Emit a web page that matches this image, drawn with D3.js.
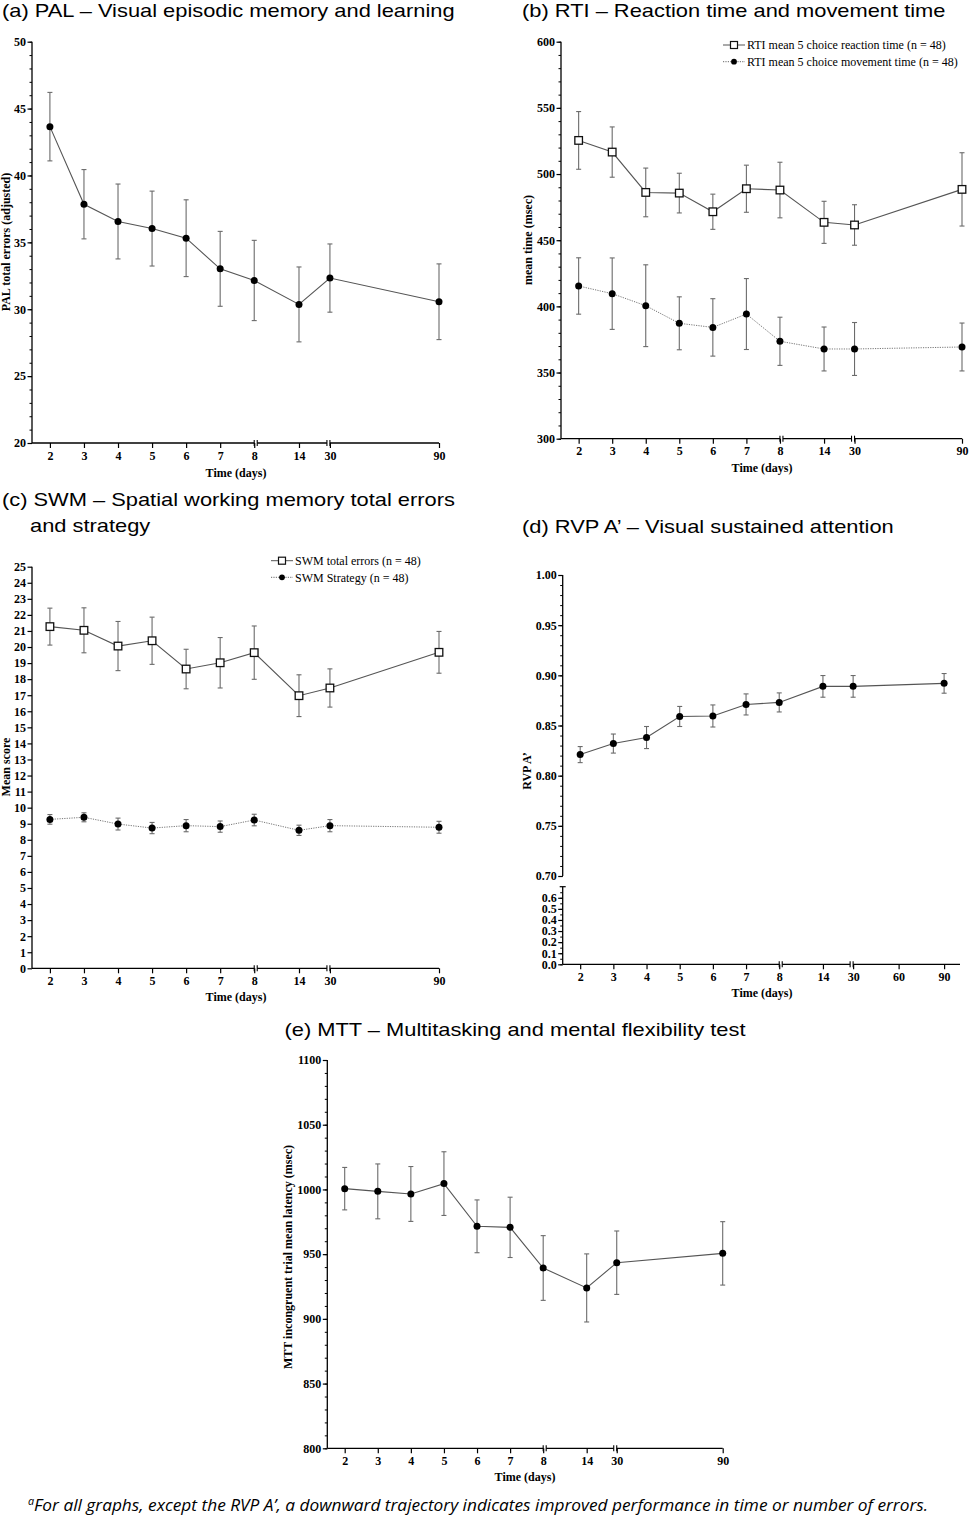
<!DOCTYPE html>
<html>
<head>
<meta charset="utf-8">
<script src="https://cdn.jsdelivr.net/npm/d3@7"></script>
<style>
  body { margin: 0; background: #fff; }
  text { fill: #000; }
</style>
</head>
<body>
<div id="chart"></div>
<script>
// ---- data ----
const days = [2, 3, 4, 5, 6, 7, 8, 14, 30, 90];
const xTickDays = [2, 3, 4, 5, 6, 7, 8, 14, 30, 90];
const rvpTickDays = [2, 3, 4, 5, 6, 7, 8, 14, 30, 60, 90];

const palMean = [43.65, 37.85, 36.56, 36.03, 35.31, 33.02, 32.15, 30.36, 32.33, 30.56];
const palErr = [2.56, 2.59, 2.8, 2.8, 2.87, 2.8, 3.0, 2.8, 2.55, 2.83];

const rtiReactionMean = [525.4, 516.6, 486.1, 485.6, 471.5, 488.9, 487.9, 463.5, 461.5, 488.4];
const rtiReactionErr = [21.8, 19.0, 18.4, 15.0, 13.3, 17.8, 21.0, 15.9, 15.3, 27.7];
const rtiMovementMean = [415.4, 409.6, 400.5, 387.2, 384.1, 394.2, 373.6, 367.8, 367.8, 369.3];
const rtiMovementErr = [21.3, 27.0, 30.9, 20.0, 21.7, 26.8, 18.2, 16.6, 20.0, 18.1];

const swmErrorsMean = [21.27, 21.04, 20.06, 20.39, 18.63, 19.02, 19.65, 16.97, 17.45, 19.67];
const swmErrorsErr = [1.15, 1.4, 1.53, 1.47, 1.23, 1.57, 1.66, 1.3, 1.19, 1.3];
const swmStrategyMean = [9.27, 9.4, 8.98, 8.73, 8.88, 8.82, 9.23, 8.59, 8.88, 8.78];
const swmStrategyErr = [0.3, 0.28, 0.37, 0.35, 0.38, 0.35, 0.36, 0.32, 0.38, 0.37];

const rvpMean = [0.821, 0.832, 0.838, 0.859, 0.8595, 0.871, 0.873, 0.889, 0.889, 0.892];
const rvpErr = [0.008, 0.0095, 0.011, 0.010, 0.011, 0.0105, 0.0095, 0.0108, 0.0108, 0.0098];

const mttMean = [1000.6, 998.5, 996.5, 1004.5, 971.5, 970.7, 939.3, 923.9, 943.4, 950.6];
const mttErr = [16.4, 21.2, 21.2, 24.6, 20.4, 23.3, 25.0, 26.3, 24.5, 24.5];

// y tick labels
const palTicks = [20, 25, 30, 35, 40, 45, 50];
const rtiTicks = [300, 350, 400, 450, 500, 550, 600];
const swmTicks = d3.range(0, 26);
const rvpUpperTicks = [0.70, 0.75, 0.80, 0.85, 0.90, 0.95, 1.00];
const rvpLowerTicks = [0.0, 0.1, 0.2, 0.3, 0.4, 0.5, 0.6];
const mttTicks = [800, 850, 900, 950, 1000, 1050, 1100];

// ---- layout ----
const W = 970, H = 1517;
const SERIF = "'Liberation Serif', 'Times New Roman', serif";
const SANS = "'Liberation Sans', Arial, Helvetica, sans-serif";
const FS = 12;                                      // axis text size
const xFrac = [0.044, 0.546, 0.656, 0.732, 1.0];   // where 2, 8, 14, 30, 90 sit along the axis
const xBreakDomain = [2, 8, 14, 30, 90];

const svg = d3.select("#chart").append("svg")
  .attr("width", W).attr("height", H)
  .attr("viewBox", `0 0 ${W} ${H}`);
svg.append("rect").attr("width", W).attr("height", H).attr("fill", "#fff");

function makeX(left, right, frac) {
  return d3.scaleLinear().domain(xBreakDomain)
    .range(frac.map(f => left + f * (right - left)));
}

// broken x axis: gaps after day 8 and before day 30
function drawXAxis(g, x, y0, left, right, ticks, labelX, labelY) {
  const axis = g.append("g")
    .attr("transform", `translate(0,${y0})`)
    .call(d3.axisBottom(x).tickValues(ticks).tickSize(5).tickPadding(3));
  axis.select(".domain").remove();
  axis.selectAll(".tick line").attr("stroke", "#000").attr("stroke-width", 1.2);
  axis.selectAll(".tick text")
    .attr("font-family", SERIF).attr("font-weight", "bold").attr("font-size", FS)
    .attr("fill", "#000");

  const b1 = x(8), b2 = x(30), gap = 3;
  const segs = [[left, b1], [b1 + gap, b2 - gap], [b2, right]];
  segs.forEach(([a, b]) => {
    g.append("line").attr("x1", a).attr("x2", b).attr("y1", y0).attr("y2", y0)
      .attr("stroke", "#000").attr("stroke-width", 1.3);
  });
  [b1, b1 + gap, b2 - gap, b2].forEach(bx => {
    g.append("line").attr("x1", bx).attr("x2", bx).attr("y1", y0 - 3).attr("y2", y0 + 3)
      .attr("stroke", "#000").attr("stroke-width", 1.1);
  });

  g.append("text").attr("x", labelX).attr("y", labelY)
    .attr("text-anchor", "middle")
    .attr("font-family", SERIF).attr("font-weight", "bold").attr("font-size", FS)
    .text("Time (days)");
}

function drawYAxis(g, y, x0, majors, minors, fmt, lineTop, lineBottom) {
  if (minors && minors.length) {
    const mn = g.append("g").attr("transform", `translate(${x0},0)`)
      .call(d3.axisLeft(y).tickValues(minors).tickSize(2.5).tickFormat(""));
    mn.select(".domain").remove();
    mn.selectAll(".tick line").attr("stroke", "#000").attr("stroke-width", 1);
  }
  const mj = g.append("g").attr("transform", `translate(${x0},0)`)
    .call(d3.axisLeft(y).tickValues(majors).tickSize(4.5).tickPadding(1.5).tickFormat(fmt));
  mj.select(".domain").remove();
  mj.selectAll(".tick line").attr("stroke", "#000").attr("stroke-width", 1.2);
  mj.selectAll(".tick text")
    .attr("font-family", SERIF).attr("font-weight", "bold").attr("font-size", FS)
    .attr("fill", "#000");
  g.append("line").attr("x1", x0).attr("x2", x0)
    .attr("y1", lineTop).attr("y2", lineBottom)
    .attr("stroke", "#000").attr("stroke-width", 1.3);
}

function yLabel(g, cx, cy, txt) {
  g.append("text")
    .attr("transform", `translate(${cx},${cy}) rotate(-90)`)
    .attr("text-anchor", "middle").attr("dy", "0.35em")
    .attr("font-family", SERIF).attr("font-weight", "bold").attr("font-size", FS)
    .text(txt);
}

function drawSeries(g, x, y, means, errs, opt) {
  const pts = days.map((d, i) => ({ d, m: means[i], e: errs[i] }));
  const eb = g.append("g").attr("stroke", "#6b6b6b").attr("stroke-width", 1.1).attr("fill", "none");
  pts.forEach(p => {
    const cx = x(p.d), yt = y(p.m + p.e), yb = y(p.m - p.e);
    eb.append("line").attr("x1", cx).attr("x2", cx).attr("y1", yt).attr("y2", yb);
    eb.append("line").attr("x1", cx - 2.5).attr("x2", cx + 2.5).attr("y1", yt).attr("y2", yt);
    eb.append("line").attr("x1", cx - 2.5).attr("x2", cx + 2.5).attr("y1", yb).attr("y2", yb);
  });
  g.append("path").datum(pts)
    .attr("fill", "none")
    .attr("stroke", opt.dotted ? "#777" : "#555")
    .attr("stroke-width", opt.dotted ? 1 : 1.1)
    .attr("stroke-dasharray", opt.dotted ? "1.2,1.2" : null)
    .attr("d", d3.line().x(p => x(p.d)).y(p => y(p.m)));
  if (opt.marker === "square") {
    g.selectAll(null).data(pts).enter().append("rect")
      .attr("x", p => x(p.d) - 3.8).attr("y", p => y(p.m) - 3.8)
      .attr("width", 7.6).attr("height", 7.6)
      .attr("fill", "#fff").attr("stroke", "#111").attr("stroke-width", 1.3);
  } else {
    g.selectAll(null).data(pts).enter().append("circle")
      .attr("cx", p => x(p.d)).attr("cy", p => y(p.m)).attr("r", 3.5)
      .attr("fill", "#000");
  }
}

function legendRow(g, x0, cy, marker, dotted, txt) {
  g.append("line").attr("x1", x0).attr("x2", x0 + 22).attr("y1", cy).attr("y2", cy)
    .attr("stroke", dotted ? "#666" : "#555").attr("stroke-width", 1)
    .attr("stroke-dasharray", dotted ? "1.2,1.2" : null);
  if (marker === "square") {
    g.append("rect").attr("x", x0 + 11 - 3.5).attr("y", cy - 3.5).attr("width", 7).attr("height", 7)
      .attr("fill", "#fff").attr("stroke", "#111").attr("stroke-width", 1.2);
  } else {
    g.append("circle").attr("cx", x0 + 11).attr("cy", cy).attr("r", 2.9).attr("fill", "#000");
  }
  g.append("text").attr("x", x0 + 24).attr("y", cy).attr("dy", "0.35em")
    .attr("font-family", SERIF).attr("font-size", FS)
    .text(txt);
}

// panel titles: the source type is a little wider than Arial, so stretch it
function title(x, y, txt, anchor) {
  const t = svg.append("text").attr("x", x).attr("y", y)
    .attr("text-anchor", anchor || "start")
    .attr("font-family", SANS).attr("font-size", 19)
    .text(txt);
  const w = t.node().getComputedTextLength();
  t.attr("textLength", w * 1.15).attr("lengthAdjust", "spacingAndGlyphs");
}

// ---- (a) PAL ----
{
  const L = 32, R = 439, T = 41.7, B = 443;
  const g = svg.append("g");
  const x = makeX(L, R, xFrac);
  const y = d3.scaleLinear().domain([20, 50]).range([B, T]);
  drawYAxis(g, y, L, palTicks, d3.range(20, 51, 1), d3.format("d"), T, B);
  drawXAxis(g, x, B, L, R, xTickDays, 236, 477);
  yLabel(g, 6, 242, "PAL total errors (adjusted)");
  drawSeries(g, x, y, palMean, palErr, { marker: "circle" });
  title(2, 17, "(a) PAL \u2013 Visual episodic memory and learning");
}

// ---- (b) RTI ----
{
  const L = 561, R = 962, T = 41.7, B = 438.7;
  const g = svg.append("g");
  const x = makeX(L, R, xFrac);
  const y = d3.scaleLinear().domain([300, 600]).range([B, T]);
  drawYAxis(g, y, L, rtiTicks, d3.range(300, 601, 10), d3.format("d"), T, B);
  drawXAxis(g, x, B, L, R, xTickDays, 762, 472);
  yLabel(g, 528, 240, "mean time (msec)");
  drawSeries(g, x, y, rtiMovementMean, rtiMovementErr, { marker: "circle", dotted: true });
  drawSeries(g, x, y, rtiReactionMean, rtiReactionErr, { marker: "square" });
  legendRow(g, 723, 45, "square", false, "RTI mean 5 choice reaction time (n = 48)");
  legendRow(g, 723, 61.7, "circle", true, "RTI mean 5 choice movement time (n = 48)");
  title(522, 17, "(b) RTI \u2013 Reaction time and movement time");
}

// ---- (c) SWM ----
{
  const L = 32, R = 439, T = 566.7, B = 968.3;
  const g = svg.append("g");
  const x = makeX(L, R, xFrac);
  const y = d3.scaleLinear().domain([0, 25]).range([B, T]);
  drawYAxis(g, y, L, swmTicks, [], d3.format("d"), T, B);
  drawXAxis(g, x, B, L, R, xTickDays, 236, 1001);
  yLabel(g, 6, 767, "Mean score");
  drawSeries(g, x, y, swmStrategyMean, swmStrategyErr, { marker: "circle", dotted: true });
  drawSeries(g, x, y, swmErrorsMean, swmErrorsErr, { marker: "square" });
  legendRow(g, 271, 560.7, "square", false, "SWM total errors (n = 48)");
  legendRow(g, 271, 577.3, "circle", true, "SWM Strategy (n = 48)");
  title(2, 506, "(c) SWM \u2013 Spatial working memory total errors");
  title(30, 532, "and strategy");
}

// ---- (d) RVP A' (broken y axis) ----
{
  const L = 562.7, R = 960, T = 575, B1 = 876, T2 = 886.7, B = 964.3;
  const g = svg.append("g");
  const x = makeX(L, R, [0.044, 0.545, 0.655, 0.731, 0.96]);
  const yUp = d3.scaleLinear().domain([0.70, 1.00]).range([B1, T]);
  const yLo = d3.scaleLinear().domain([0, 0.7]).range([B, T2]);
  drawYAxis(g, yUp, L, rvpUpperTicks, d3.range(70, 101, 1).map(v => v / 100), d3.format(".2f"), T, B1);
  drawYAxis(g, yLo, L, rvpLowerTicks, d3.range(0, 14, 1).map(v => v * 0.05), d3.format(".1f"), T2, B);
  g.append("line").attr("x1", L - 3).attr("x2", L + 3).attr("y1", T2).attr("y2", T2)
    .attr("stroke", "#000").attr("stroke-width", 1.2);
  drawXAxis(g, x, B, L, R, rvpTickDays, 762, 997);
  yLabel(g, 527, 771, "RVP A\u2019");
  drawSeries(g, x, yUp, rvpMean, rvpErr, { marker: "circle" });
  title(522, 533, "(d) RVP A\u2019 \u2013 Visual sustained attention");
}

// ---- (e) MTT ----
{
  const L = 327.3, R = 722.7, T = 1060, B = 1448.3;
  const g = svg.append("g");
  const x = makeX(L, R, xFrac);
  const y = d3.scaleLinear().domain([800, 1100]).range([B, T]);
  drawYAxis(g, y, L, mttTicks, d3.range(800, 1101, 10), d3.format("d"), T, B);
  drawXAxis(g, x, B, L, R, xTickDays, 525, 1481);
  yLabel(g, 288, 1257, "MTT incongruent trial mean latency  (msec)");
  drawSeries(g, x, y, mttMean, mttErr, { marker: "circle" });
  title(515, 1036, "(e) MTT \u2013 Multitasking and mental flexibility test", "middle");
}

// ---- footnote ----
{
  const t = svg.append("text").attr("x", 478).attr("y", 1511)
    .attr("text-anchor", "middle")
    .attr("font-family", "'Open Sans', Lato, sans-serif").attr("font-style", "italic")
    .attr("font-size", 16)
    .attr("textLength", 900).attr("lengthAdjust", "spacingAndGlyphs");
  t.append("tspan").attr("font-size", 10).attr("dy", -6).text("a");
  t.append("tspan").attr("dy", 6)
    .text("For all graphs, except the RVP A\u2019, a downward trajectory indicates improved performance in time or number of errors.");
}
</script>
</body>
</html>
